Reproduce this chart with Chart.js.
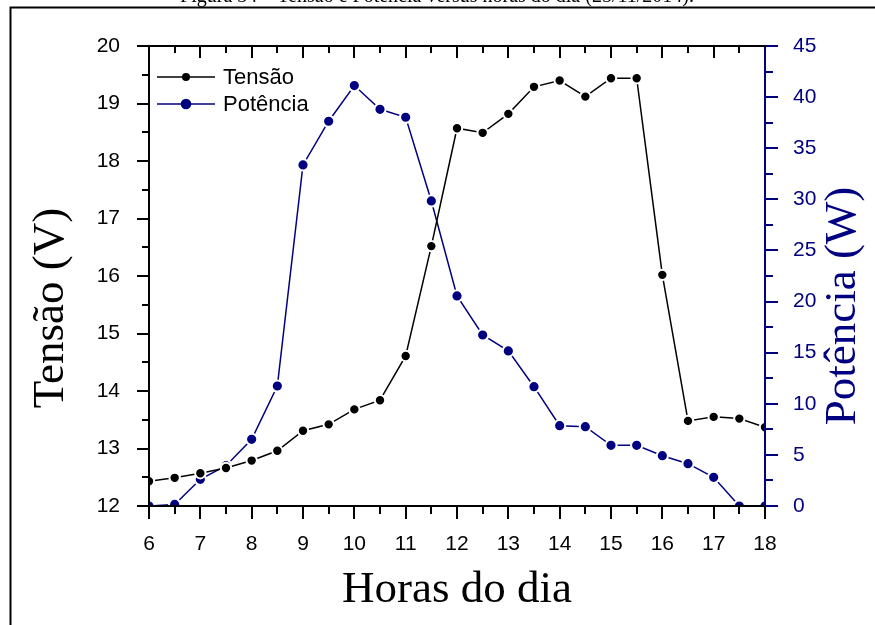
<!DOCTYPE html>
<html>
<head>
<meta charset="utf-8">
<script src="https://cdn.jsdelivr.net/npm/chart.js@4"></script>
<style>
  html, body { margin: 0; padding: 0; background: #fff; }
  #wrap { position: relative; width: 875px; height: 625px; }
</style>
</head>
<body>
<div id="wrap"><canvas id="c" width="875" height="625"></canvas></div>
<script>
// ---- data ----
const caption = 'Figura 34 – Tensão e Potência versus horas do dia (25/11/2014).';
const hours = [6, 6.5, 7, 7.5, 8, 8.5, 9, 9.5, 10, 10.5, 11, 11.5, 12, 12.5, 13, 13.5, 14, 14.5, 15, 15.5, 16, 16.5, 17, 17.5, 18];
const tensao = [12.43, 12.49, 12.57, 12.66, 12.79, 12.96, 13.31, 13.42, 13.68, 13.84, 14.61, 16.52, 18.57, 18.49, 18.82, 19.29, 19.40, 19.12, 19.44, 19.44, 16.02, 13.48, 13.55, 13.52, 13.37];
const potencia = [0.0, 0.15, 2.61, 3.94, 6.52, 11.74, 33.37, 37.64, 41.13, 38.81, 38.03, 29.84, 20.55, 16.73, 15.17, 11.67, 7.86, 7.76, 5.94, 5.94, 4.92, 4.14, 2.81, 0.0, 0.0];
const seriesLabels = ['Tensão', 'Potência'];
const axisTitles = { x: 'Horas do dia', y: 'Tensão (V)', y1: 'Potência (W)' };
const xRange = [6, 18];
const yRange = [12, 20];
const y1Range = [0, 45];

const NAVY = '#000080';
const SANS = '"Liberation Sans", Arial, sans-serif';
const SERIF = '"Liberation Serif", "Times New Roman", serif';

const decor = {
  id: 'decor',
  afterDraw(chart) {
    const { ctx, chartArea: a, scales: { x, y, y1 } } = chart;
    ctx.save();
    // figure frame
    ctx.strokeStyle = '#000';
    ctx.lineWidth = 2;
    ctx.beginPath();
    ctx.moveTo(10.5, 625); ctx.lineTo(10.5, 7.5); ctx.lineTo(875, 7.5);
    ctx.stroke();
    // caption (cut off at top)
    ctx.fillStyle = '#000';
    ctx.font = '20px ' + SERIF;
    ctx.textAlign = 'center';
    ctx.textBaseline = 'alphabetic';
    ctx.fillText(caption, 437, 2);

    // top axis line
    ctx.lineWidth = 2;
    ctx.strokeStyle = '#000';
    ctx.beginPath();
    ctx.moveTo(a.left - 1, a.top); ctx.lineTo(a.right, a.top);
    ctx.stroke();

    // x ticks (bottom outward, top inward)
    for (let v = xRange[0]; v <= xRange[1] + 1e-9; v += 0.5) {
      const px = Math.round(x.getPixelForValue(v));
      const major = Math.abs(v - Math.round(v)) < 1e-9;
      ctx.beginPath();
      ctx.moveTo(px, a.bottom); ctx.lineTo(px, a.bottom + (major ? 13 : 8));
      if (v > xRange[0] && v < xRange[1]) {
        ctx.moveTo(px, a.top); ctx.lineTo(px, a.top + (major ? 12 : 7));
      }
      ctx.stroke();
    }
    // left ticks
    for (let v = yRange[0]; v <= yRange[1] + 1e-9; v += 0.5) {
      const py = Math.round(y.getPixelForValue(v));
      const major = Math.abs(v - Math.round(v)) < 1e-9;
      ctx.beginPath();
      ctx.moveTo(a.left, py); ctx.lineTo(a.left - (major ? 12 : 7), py);
      ctx.stroke();
    }
    // right ticks
    ctx.strokeStyle = NAVY;
    for (let v = y1Range[0]; v <= y1Range[1] + 1e-9; v += 2.5) {
      const py = Math.round(y1.getPixelForValue(v));
      const major = Math.abs(v / 5 - Math.round(v / 5)) < 1e-9;
      ctx.beginPath();
      ctx.moveTo(a.right, py); ctx.lineTo(a.right + (major ? 13 : 8), py);
      ctx.stroke();
    }

    // vertical axis titles (both read bottom to top)
    ctx.font = '45px ' + SERIF;
    ctx.textAlign = 'center';
    ctx.textBaseline = 'middle';
    ctx.save();
    ctx.translate(51, 308);
    ctx.rotate(-Math.PI / 2);
    ctx.fillStyle = '#000';
    ctx.fillText(axisTitles.y, 0, 0);
    ctx.restore();
    ctx.save();
    ctx.translate(843, 306);
    ctx.rotate(-Math.PI / 2);
    ctx.fillStyle = NAVY;
    ctx.fillText(axisTitles.y1, 0, 0);
    ctx.restore();

    // legend
    const rows = [
      { ds: chart.data.datasets[0], yy: 77, r: 4.0 },
      { ds: chart.data.datasets[1], yy: 104, r: 5.3 }
    ];
    ctx.font = '22px ' + SANS;
    ctx.textAlign = 'left';
    ctx.textBaseline = 'middle';
    rows.forEach(({ ds, yy, r }) => {
      ctx.strokeStyle = ds.borderColor;
      ctx.lineWidth = 1.5;
      ctx.beginPath(); ctx.moveTo(157, yy); ctx.lineTo(215, yy); ctx.stroke();
      ctx.fillStyle = ds.borderColor;
      ctx.beginPath(); ctx.arc(186, yy, r, 0, Math.PI * 2); ctx.fill();
      ctx.fillStyle = '#000';
      ctx.fillText(ds.label, 223, yy + 1);
    });
    ctx.restore();
  }
};

new Chart(document.getElementById('c'), {
  type: 'line',
  data: {
    datasets: [
      {
        label: seriesLabels[0],
        data: hours.map((h, i) => ({ x: h, y: tensao[i] })),
        yAxisID: 'y',
        borderColor: '#000',
        backgroundColor: '#000',
        borderWidth: 1.5,
        pointRadius: 5.2,
        pointBackgroundColor: '#000',
        pointBorderColor: '#fff',
        pointBorderWidth: 2,
        tension: 0,
        fill: false
      },
      {
        label: seriesLabels[1],
        data: hours.map((h, i) => ({ x: h, y: potencia[i] })),
        yAxisID: 'y1',
        borderColor: NAVY,
        backgroundColor: NAVY,
        borderWidth: 1.5,
        pointRadius: 5.6,
        pointBackgroundColor: NAVY,
        pointBorderColor: '#fff',
        pointBorderWidth: 2,
        tension: 0,
        fill: false
      }
    ]
  },
  options: {
    responsive: false,
    animation: false,
    events: [],
    layout: { padding: { top: 46, left: 0, right: 0, bottom: 0 } },
    plugins: { legend: { display: false }, title: { display: false }, tooltip: { enabled: false } },
    scales: {
      x: {
        type: 'linear',
        position: 'bottom',
        min: xRange[0], max: xRange[1],
        ticks: { stepSize: 1, color: '#000', font: { family: SANS, size: 21 }, padding: 18, maxRotation: 0 },
        grid: { display: false },
        border: { display: true, color: '#000', width: 2, z: 1 },
        title: { display: true, text: axisTitles.x, color: '#000', font: { family: SERIF, size: 45 }, padding: { top: 0, bottom: 8 } },
        afterFit: s => { s.height = 119; }
      },
      y: {
        type: 'linear',
        position: 'left',
        min: yRange[0], max: yRange[1],
        ticks: { stepSize: 1, color: '#000', font: { family: SANS, size: 21 }, padding: 21 },
        grid: { display: false },
        border: { display: true, color: '#000', width: 2, z: 1 },
        afterFit: s => { s.width = 149; }
      },
      y1: {
        type: 'linear',
        position: 'right',
        min: y1Range[0], max: y1Range[1],
        ticks: { stepSize: 5, color: NAVY, font: { family: SANS, size: 21 }, padding: 20 },
        grid: { display: false },
        border: { display: true, color: NAVY, width: 2, z: 1 },
        afterFit: s => { s.width = 110; }
      }
    }
  },
  plugins: [decor]
});
</script>
</body>
</html>
